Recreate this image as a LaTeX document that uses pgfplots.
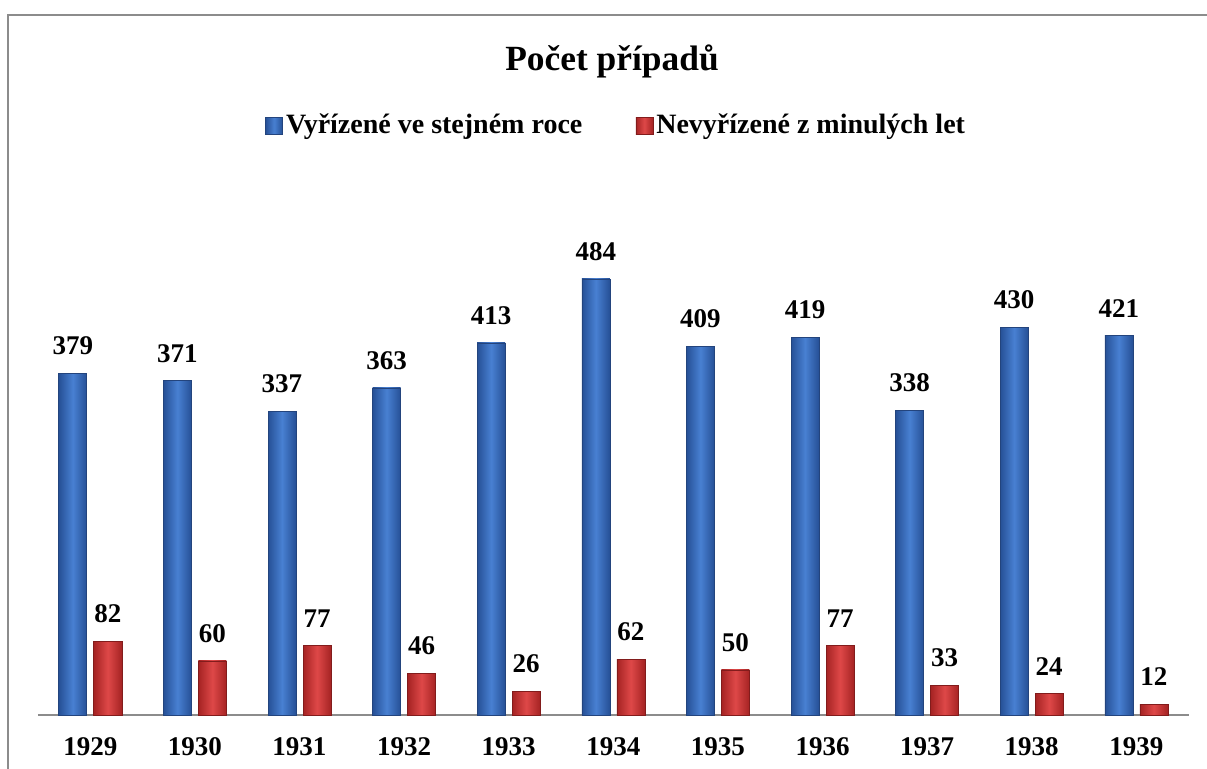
\documentclass[border=0pt]{standalone}
\usepackage{pgfplots}
\pgfplotsset{compat=1.18}
\usepackage{fontspec}
\setmainfont{Liberation Serif}
\definecolor{blueedge}{RGB}{38,80,150}
\definecolor{bluemid}{RGB}{72,128,210}
\definecolor{blueline}{RGB}{35,68,125}
\definecolor{rededge}{RGB}{165,35,35}
\definecolor{redmid}{RGB}{222,72,72}
\definecolor{redline}{RGB}{130,28,28}
\definecolor{framegray}{RGB}{140,140,140}
\pgfplotstableread{
x v n
0 379 82
1 371 60
2 337 77
3 363 46
4 413 26
5 484 62
6 409 50
7 419 77
8 338 33
9 430 24
10 421 12
}\datatable
\pgfplotsset{
  bluebar/.style={left color=blueedge, right color=blueedge, middle color=bluemid, draw=blueline, line width=0.3pt},
  redbar/.style={left color=rededge, right color=rededge, middle color=redmid, draw=redline, line width=0.3pt},
}
\begin{document}
\begin{tikzpicture}
\useasboundingbox (-19pt,-27pt) rectangle (584.5pt,357.5pt);
\begin{axis}[
  at={(0pt,0pt)}, anchor=south west,
  scale only axis,
  width=575.3pt, height=243.3pt,
  xmin=-0.5, xmax=10.5, ymin=0, ymax=540,
  clip=false,
  ybar, bar width=14pt,
  axis x line=bottom, axis y line=none,
  x axis line style={-, draw=framegray, line width=0.8pt},
  major tick length=0pt,
  xtick={0,1,2,3,4,5,6,7,8,9,10},
  xticklabels={1929,1930,1931,1932,1933,1934,1935,1936,1937,1938,1939},
  xticklabel style={font=\fontsize{13.5}{16}\selectfont\bfseries, anchor=north, inner sep=0pt, yshift=-11pt},
  /pgf/number format/assume math mode=true,
  nodes near coords,
  nodes near coords style={font=\fontsize{13.5}{16}\selectfont\bfseries, anchor=south, inner sep=0pt, yshift=9pt, text=black},
  legend columns=2,
  legend style={at={(0.503,1.2125)}, anchor=center, draw=none, fill=none,
    font=\fontsize{14}{16}\selectfont\bfseries,
    /tikz/every even column/.append style={column sep=25pt},
    nodes={inner sep=1.6pt}},
  legend image code/.code={\draw[#1,/tikz/.cd] (0pt,-4.6pt) rectangle (8.5pt,3.9pt);},
]
\addlegendimage{bluebar}
\addlegendentry{Vyřízené ve stejném roce}
\addlegendimage{redbar}
\addlegendentry{Nevyřízené z minulých let}
\pgfplotsinvokeforeach{0,...,10}{
  \addplot[bluebar, bar shift=-8.75pt, forget plot, restrict x to domain=#1:#1]
    table[x=x, y=v] {\datatable};
  \addplot[redbar, bar shift=8.75pt, forget plot, restrict x to domain=#1:#1]
    table[x=x, y=n] {\datatable};
}
\end{axis}
\node[anchor=base, font=\fontsize{17.7}{20}\selectfont\bfseries] at (287pt,322pt) {Počet případů};
\draw[framegray, line width=1pt] (-15pt,-40pt) -- (-15pt,350pt) -- (600pt,350pt);
\end{tikzpicture}
\end{document}
